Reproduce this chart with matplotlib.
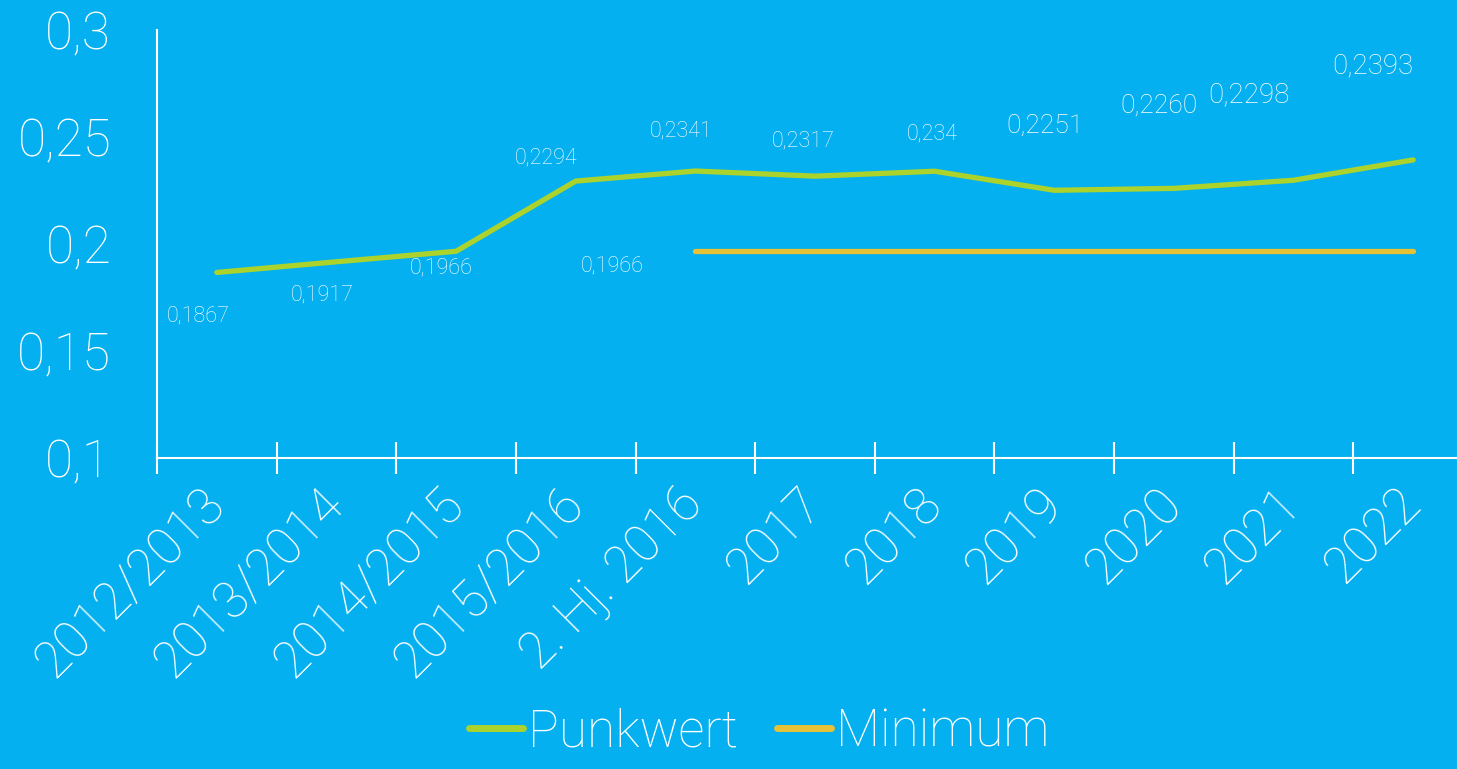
import matplotlib
matplotlib.use("Agg")
from matplotlib import pyplot as plt

# data
categories = ["2012/2013", "2013/2014", "2014/2015", "2015/2016", "2. Hj. 2016",
              "2017", "2018", "2019", "2020", "2021", "2022"]
punkwert = [0.1867, 0.1917, 0.1966, 0.2294, 0.2341, 0.2317, 0.234, 0.2251, 0.2260, 0.2298, 0.2393]
punkwert_labels = ["0,1867", "0,1917", "0,1966", "0,2294", "0,2341", "0,2317", "0,234",
                   "0,2251", "0,2260", "0,2298", "0,2393"]
minimum = [None, None, None, None, 0.1966, 0.1966, 0.1966, 0.1966, 0.1966, 0.1966, 0.1966]
minimum_label = "0,1966"
yticks = [0.1, 0.15, 0.2, 0.25, 0.3]
ytick_labels = ["0,1", "0,15", "0,2", "0,25", "0,3"]

# label placement (offsets in pixels from point) and sizes, hand placed like the original
label_offsets = [(-19, -44), (-14, -33), (-15, -17), (-30, 23), (-14, 40), (-12, 35),
                 (-2, 37), (-9, 65), (-15, 83), (-45, 85), (-40, 94)]
label_sizes = [15.5, 15.5, 15.5, 15.5, 15.5, 15.5, 15.5, 19, 19, 20, 20]

BG = "#04B0EF"
GREEN = "#ACD22C"
YELLOW = "#E7C236"
plt.rcParams['font.family'] = ['Roboto', 'DejaVu Sans']
plt.rcParams['font.weight'] = 'light'

fig = plt.figure(figsize=(14.57, 7.69), dpi=100, facecolor=BG)
ax = fig.add_axes([157/1457, 1-458/769, 1316/1457, 428/769])
ax.set_facecolor(BG)

x = list(range(len(categories)))
ax.plot(x, punkwert, color=GREEN, lw=3.8, solid_capstyle='round', label="Punkwert")
xm = [i for i in x if minimum[i] is not None]
ym = [minimum[i] for i in xm]
ax.plot(xm, ym, color=YELLOW, lw=3.8, solid_capstyle='round', label="Minimum")

px = 72/100  # pixels -> points
for i, (v, t) in enumerate(zip(punkwert, punkwert_labels)):
    dx, dy = label_offsets[i]
    ax.annotate(t, (i, v), xytext=(dx*px, dy*px), textcoords='offset points',
                ha='center', va='center', color='white', fontsize=label_sizes[i])
ax.annotate(minimum_label, (xm[0], ym[0]), xytext=(-83*px, -15*px), textcoords='offset points',
            ha='center', va='center', color='white', fontsize=15.5)

ax.set_xlim(-0.5, 10.5)
ax.set_ylim(0.1, 0.3)
ax.set_yticks(yticks)
ax.set_yticklabels(ytick_labels, color='white', fontsize=37)
ax.tick_params(axis='y', length=0, pad=33)

ax.set_xticks(x)
ax.set_xticklabels(categories, rotation=45, ha='right', va='center', rotation_mode='anchor',
                   color='white', fontsize=37)
ax.tick_params(axis='x', which='major', length=0, pad=28)
ax.set_xticks([i - 0.5 for i in range(len(categories) + 1)], minor=True)
ax.tick_params(axis='x', which='minor', direction='inout', length=23, width=1.5, color='white')

for s in ["top", "right"]:
    ax.spines[s].set_visible(False)
for s in ["left", "bottom"]:
    ax.spines[s].set_color('white')
    ax.spines[s].set_linewidth(1.5)

leg = fig.legend(loc='lower center', bbox_to_anchor=(0.521, -0.045), ncol=2, frameon=False,
                 fontsize=37, handlelength=1.05, handletextpad=0.1, columnspacing=0.75)
for t in leg.get_texts():
    t.set_color('white')
for h in leg.get_lines():
    h.set_linewidth(5)

fig.savefig("out.png", dpi=100, facecolor=BG)
